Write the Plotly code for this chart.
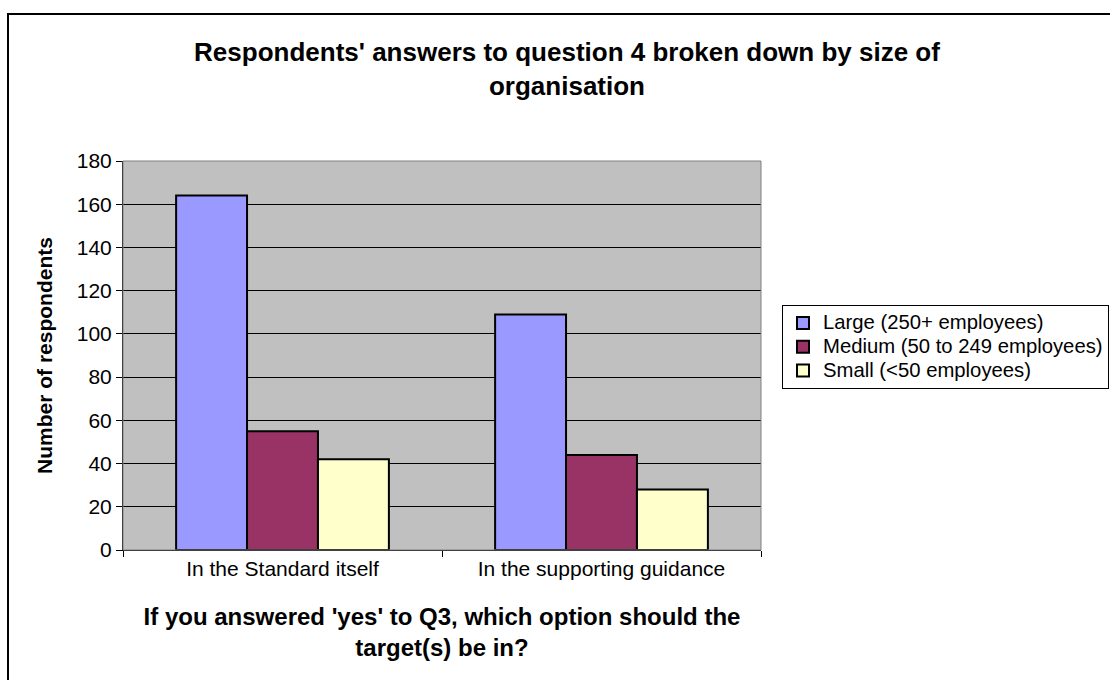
import plotly.graph_objects as go

# Survey responses by organisation size
categories = ["In the Standard itself", "In the supporting guidance"]
series_names = ["Large (250+ employees)", "Medium (50 to 249 employees)", "Small (<50 employees)"]
large = [164, 109]
medium = [55, 44]
small = [42, 28]
colors = ["#9999FF", "#993366", "#FFFFCC"]

y_ticks = list(range(0, 181, 20))

FONT = "Liberation Sans, Arial, sans-serif"
W, H = 1110, 680
L, R, T, B = 123, 349, 161, 130
pw, ph = W - L - R, H - T - B

fig = go.Figure()
for name, vals, col in zip(series_names, [large, medium, small], colors):
    fig.add_trace(go.Bar(
        x=categories, y=vals,
        # legend rows are spaced by the legend font size; the label itself is drawn larger
        name=f'<span style="font-size:20.3px">{name}</span>',
        marker=dict(color=col, line=dict(color="black", width=2)),
    ))


def px_x(p):
    return (p - L) / pw


def px_y(p):
    return (H - B - p) / ph


fig.update_layout(
    width=W, height=H,
    margin=dict(l=L, r=R, t=T, b=B, autoexpand=False),
    paper_bgcolor="white",
    plot_bgcolor="#C0C0C0",
    barmode="group",
    bargap=0.333,
    bargroupgap=0,
    font=dict(family=FONT, size=21, color="black"),
    title=dict(
        text="<b>Respondents' answers to question 4 broken down by size of<br>organisation</b>",
        font=dict(family=FONT, size=26, color="black"),
        x=567 / W, xanchor="center", xref="container",
        y=1 - 61 / H, yanchor="top", yref="container",
    ),
    xaxis=dict(
        type="category",
        showline=True, linecolor="black", linewidth=1,
        ticks="outside", tickson="boundaries", ticklen=6, tickcolor="black",
        showgrid=False,
        tickfont=dict(family=FONT, size=21),
        title=dict(
            text="<b>If you answered 'yes' to Q3, which option should the<br>target(s) be in?</b>",
            font=dict(family=FONT, size=24),
            standoff=28,
        ),
    ),
    yaxis=dict(
        range=[0, 180],
        tickvals=y_ticks,
        showline=True, linecolor="black", linewidth=1,
        ticks="outside", ticklen=6, tickcolor="black",
        showgrid=True, gridcolor="black", gridwidth=1,
        zeroline=False,
        tickfont=dict(family=FONT, size=21),
        title=dict(text="<b>Number of respondents</b>", font=dict(family=FONT, size=21), standoff=18),
    ),
    legend=dict(
        x=px_x(782), xanchor="left",
        y=px_y(305), yanchor="top",
        bordercolor="black", borderwidth=1,
        bgcolor="white",
        font=dict(family=FONT, size=16),
        traceorder="normal",
        itemsizing="constant",
    ),
    shapes=[
        # plot area frame
        dict(type="rect", xref="paper", yref="paper", x0=0, y0=0, x1=1, y1=1,
             line=dict(color="#808080", width=1), layer="above"),
        # chart border
        dict(type="rect", xref="paper", yref="paper",
             x0=px_x(8), y0=px_y(700), x1=px_x(1130), y1=px_y(14),
             line=dict(color="black", width=2), layer="above"),
    ],
)

fig.write_html("out.html")
